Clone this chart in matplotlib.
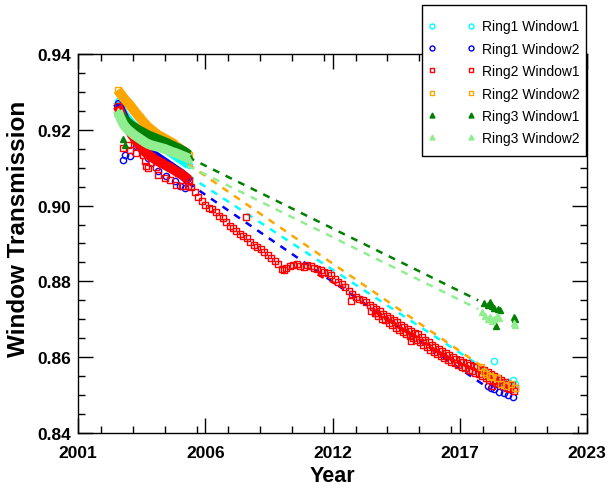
import matplotlib
matplotlib.use("Agg")
import matplotlib.pyplot as plt
from matplotlib.patches import Rectangle
from matplotlib.ticker import FixedLocator, MultipleLocator

plt.rcParams["font.family"] = ["Liberation Sans", "DejaVu Sans"]

# -------------------------------
# Datos
# -------------------------------
series_names = ["Ring1 Window1", "Ring1 Window2", "Ring2 Window1",
                "Ring2 Window2", "Ring3 Window1", "Ring3 Window2"]

early_years = [2002.72, 2002.80, 2002.88, 2002.97, 2003.07, 2003.18, 2003.30,
               2003.42, 2003.54, 2003.66, 2003.78, 2003.90, 2004.02, 2004.14,
               2004.26, 2004.38, 2004.50, 2004.62, 2004.74, 2004.86, 2004.98,
               2005.10, 2005.22, 2005.34, 2005.46, 2005.58, 2005.70, 2005.78]

r1w1_early = [0.9275, 0.9263, 0.9252, 0.9242, 0.9233, 0.9224, 0.9216, 0.9209,
              0.9203, 0.9197, 0.9192, 0.9187, 0.9182, 0.9177, 0.9172, 0.9167,
              0.9162, 0.9157, 0.9152, 0.9147, 0.9142, 0.9137, 0.9132, 0.9127,
              0.9122, 0.9117, 0.9112, 0.9108]
r1w2_early = [0.9270, 0.9258, 0.9247, 0.9235, 0.9223, 0.9211, 0.9199, 0.9188,
              0.9178, 0.9169, 0.9160, 0.9152, 0.9145, 0.9139, 0.9134, 0.9129,
              0.9124, 0.9119, 0.9114, 0.9109, 0.9104, 0.9099, 0.9094, 0.9089,
              0.9084, 0.9078, 0.9071, 0.9064]
r2w1_early = [0.9262, 0.9250, 0.9240, 0.9228, 0.9215, 0.9202, 0.9190, 0.9179,
              0.9168, 0.9158, 0.9150, 0.9142, 0.9135, 0.9130, 0.9125, 0.9120,
              0.9116, 0.9112, 0.9108, 0.9104, 0.9100, 0.9096, 0.9091, 0.9087,
              0.9083, 0.9078, 0.9072, 0.9068]
r2w2_early = [0.9305, 0.9298, 0.9292, 0.9284, 0.9277, 0.9270, 0.9261, 0.9251,
              0.9242, 0.9233, 0.9224, 0.9216, 0.9208, 0.9202, 0.9196, 0.9190,
              0.9185, 0.9181, 0.9177, 0.9173, 0.9169, 0.9165, 0.9158, 0.9153,
              0.9148, 0.9143, 0.9138, 0.9133]
r3w1_early = [0.9245, 0.9240, 0.9235, 0.9229, 0.9224, 0.9218, 0.9212, 0.9207,
              0.9202, 0.9198, 0.9194, 0.9190, 0.9186, 0.9183, 0.9180, 0.9177,
              0.9174, 0.9171, 0.9168, 0.9165, 0.9161, 0.9158, 0.9154, 0.9151,
              0.9147, 0.9143, 0.9138, 0.9134]
r3w2_early = [0.9250, 0.9236, 0.9225, 0.9214, 0.9206, 0.9199, 0.9193, 0.9187,
              0.9182, 0.9177, 0.9172, 0.9167, 0.9163, 0.9160, 0.9158, 0.9156,
              0.9154, 0.9152, 0.9150, 0.9147, 0.9144, 0.9141, 0.9139, 0.9136,
              0.9133, 0.9130, 0.9127, 0.9124]

# puntos sueltos del periodo inicial (y algunos tardios)
r1w2_out_x = [2002.94, 2003.03, 2003.24, 2003.50, 2003.72, 2004.03, 2004.16,
              2004.46, 2004.81, 2005.20, 2005.41, 2005.63]
r1w2_out_y = [0.9121, 0.9134, 0.9130, 0.9157, 0.9150, 0.9126, 0.9113, 0.9092,
              0.9079, 0.9066, 0.9053, 0.9047]
r2w1_out_x = [2002.94, 2003.16, 2003.24, 2003.50, 2003.81, 2003.89, 2003.94,
              2004.03, 2004.38, 2004.46, 2004.76, 2004.98, 2005.24, 2005.54,
              2005.76, 2008.26, 2012.80, 2013.90, 2015.40, 2018.90]
r2w1_out_y = [0.9152, 0.9160, 0.9147, 0.9139, 0.9134, 0.9118, 0.9105, 0.9100,
              0.9102, 0.9081, 0.9074, 0.9068, 0.9055, 0.9053, 0.9053, 0.8969,
              0.8747, 0.8716, 0.8643, 0.8525]
r3w1_out_x = [2002.94, 2003.03]
r3w1_out_y = [0.9175, 0.9160]

# Ring2 Window1 continua
r2w1_late_x = [2005.90, 2006.05, 2006.20, 2006.35, 2006.50, 2006.65, 2006.80,
               2006.95, 2007.10, 2007.25, 2007.40, 2007.55, 2007.70, 2007.85,
               2008.00, 2008.15, 2008.30, 2008.45, 2008.60, 2008.75, 2008.90,
               2009.05, 2009.20, 2009.35, 2009.50, 2009.65, 2009.80, 2009.90,
               2010.00, 2010.15, 2010.30, 2010.45, 2010.60, 2010.75, 2010.90,
               2011.05, 2011.20, 2011.35, 2011.50, 2011.65, 2011.80, 2011.95,
               2012.10, 2012.25, 2012.40, 2012.55, 2012.70, 2012.85, 2013.00,
               2013.15, 2013.30, 2013.45, 2013.60, 2013.75, 2013.90, 2014.05,
               2014.20, 2014.35, 2014.50, 2014.65, 2014.80, 2014.95, 2015.10,
               2015.25, 2015.40, 2015.55, 2015.70, 2015.85, 2016.00, 2016.15,
               2016.30, 2016.45, 2016.60, 2016.75, 2016.90, 2017.05, 2017.20,
               2017.35, 2017.50, 2017.65, 2017.80, 2017.95, 2018.10, 2018.25,
               2018.40, 2018.55, 2018.70, 2018.85, 2019.00, 2019.15, 2019.30,
               2019.45, 2019.60, 2019.75, 2019.90]
r2w1_late_y = [0.9048, 0.9035, 0.9024, 0.9012, 0.9001, 0.8994, 0.8990, 0.8984,
               0.8973, 0.8966, 0.8956, 0.8946, 0.8940, 0.8932, 0.8926, 0.8921,
               0.8915, 0.8905, 0.8897, 0.8891, 0.8885, 0.8878, 0.8870, 0.8863,
               0.8855, 0.8846, 0.8834, 0.8829, 0.8835, 0.8840, 0.8844, 0.8846,
               0.8841, 0.8838, 0.8842, 0.8840, 0.8836, 0.8833, 0.8829, 0.8826,
               0.8821, 0.8816, 0.8806, 0.8798, 0.8792, 0.8785, 0.8774, 0.8766,
               0.8760, 0.8754, 0.8750, 0.8745, 0.8738, 0.8733, 0.8728, 0.8721,
               0.8715, 0.8710, 0.8704, 0.8697, 0.8692, 0.8686, 0.8679, 0.8674,
               0.8670, 0.8665, 0.8660, 0.8652, 0.8646, 0.8640, 0.8633, 0.8626,
               0.8621, 0.8616, 0.8611, 0.8606, 0.8601, 0.8596, 0.8592, 0.8588,
               0.8584, 0.8580, 0.8577, 0.8573, 0.8569, 0.8565, 0.8560, 0.8555,
               0.8550, 0.8546, 0.8540, 0.8535, 0.8530, 0.8526, 0.8520]
r2w1_band_x = [2013.68, 2013.83, 2013.98, 2014.13, 2014.28, 2014.43, 2014.58,
               2014.73, 2014.88, 2015.03, 2015.18, 2015.33, 2015.48, 2015.63,
               2015.78, 2015.93, 2016.08, 2016.23, 2016.38, 2016.53, 2016.68,
               2016.83, 2016.98, 2017.13, 2017.28, 2017.43, 2017.58, 2017.73,
               2017.88, 2018.03, 2018.18, 2018.33, 2018.48, 2018.63, 2018.78,
               2018.93, 2019.08, 2019.23, 2019.38, 2019.53, 2019.68, 2019.83]
r2w1_band_y = [0.8722, 0.8716, 0.8710, 0.8702, 0.8697, 0.8690, 0.8685, 0.8678,
               0.8672, 0.8666, 0.8660, 0.8656, 0.8651, 0.8646, 0.8640, 0.8633,
               0.8627, 0.8620, 0.8614, 0.8608, 0.8603, 0.8598, 0.8593, 0.8588,
               0.8584, 0.8579, 0.8575, 0.8571, 0.8567, 0.8563, 0.8559, 0.8555,
               0.8550, 0.8546, 0.8541, 0.8537, 0.8532, 0.8528, 0.8524, 0.8520,
               0.8516, 0.8512]

# grupos finales 2018-2019
r1w1_end_x = [2018.40, 2018.60, 2018.75, 2018.97, 2019.05, 2019.30, 2019.60, 2019.80, 2019.90]
r1w1_end_y = [0.8565, 0.8560, 0.8555, 0.8591, 0.8545, 0.8535, 0.8535, 0.8540, 0.8530]
r1w2_end_x = [2018.70, 2018.85, 2019.00, 2019.20, 2019.40, 2019.60, 2019.80]
r1w2_end_y = [0.8525, 0.8520, 0.8515, 0.8508, 0.8505, 0.8500, 0.8495]
r2w2_end_x = [2018.40, 2018.55, 2018.65, 2018.80, 2018.90, 2019.10, 2019.30, 2019.50, 2019.70, 2019.90]
r2w2_end_y = [0.8575, 0.8560, 0.8555, 0.8550, 0.8548, 0.8545, 0.8530, 0.8525, 0.8528, 0.8520]
r3w1_end_x = [2018.55, 2018.70, 2018.80, 2018.90, 2019.00, 2019.05, 2019.15, 2019.25, 2019.85, 2019.90]
r3w1_end_y = [0.8742, 0.8738, 0.8745, 0.8736, 0.8730, 0.8682, 0.8728, 0.8724, 0.8705, 0.8700]
r3w2_end_x = [2018.45, 2018.60, 2018.70, 2018.80, 2018.90, 2019.00, 2019.10, 2019.20, 2019.85, 2019.90]
r3w2_end_y = [0.8718, 0.8710, 0.8700, 0.8705, 0.8695, 0.8700, 0.8708, 0.8703, 0.8690, 0.8685]

# tramos sin datos (lineas discontinuas)
r1w1_gap_x = [2005.75, 2018.60]
r1w1_gap_y = [0.9080, 0.8568]
r1w2_gap_x = [2005.75, 2018.70]
r1w2_gap_y = [0.9060, 0.8520]
r2w1_gap_x = [2011.35, 2012.50]
r2w1_gap_y = [0.8818, 0.8782]
r2w2_gap_x = [2005.75, 2018.60]
r2w2_gap_y = [0.9110, 0.8570]
r3w1_gap_x = [2005.75, 2018.30]
r3w1_gap_y = [0.9128, 0.8750]
r3w2_gap_x = [2005.75, 2018.30]
r3w2_gap_y = [0.9105, 0.8727]

x_ticks = [2001, 2006.5, 2012, 2017.5, 2023]
x_tick_labels = ["2001", "2006", "2012", "2017", "2023"]

colors = ["#00FFFF", "#0000FF", "#FF0000", "#FFA500", "#008000", "#90EE90"]
markers = ["o", "o", "s", "s", "^", "^"]

# -------------------------------
# Figura
# -------------------------------
fig = plt.figure(figsize=(6.09, 4.89), dpi=100)
ax = fig.add_axes([78 / 609, 1 - 434 / 489, 509 / 609, 379 / 489])

early = [r1w1_early, r1w2_early, r2w1_early, r2w2_early, r3w1_early, r3w2_early]
extra = [
    [(r1w1_end_x, r1w1_end_y)],
    [(r1w2_out_x, r1w2_out_y), (r1w2_end_x, r1w2_end_y)],
    [(r2w1_out_x, r2w1_out_y), (r2w1_late_x, r2w1_late_y), (r2w1_band_x, r2w1_band_y)],
    [(r2w2_end_x, r2w2_end_y)],
    [(r3w1_out_x, r3w1_out_y), (r3w1_end_x, r3w1_end_y)],
    [(r3w2_end_x, r3w2_end_y)],
]
gaps = [(r1w1_gap_x, r1w1_gap_y), (r1w2_gap_x, r1w2_gap_y), (r2w1_gap_x, r2w1_gap_y),
        (r2w2_gap_x, r2w2_gap_y), (r3w1_gap_x, r3w1_gap_y), (r3w2_gap_x, r3w2_gap_y)]

handles = []
for i, name in enumerate(series_names):
    c = colors[i]
    mfc = c if markers[i] == "^" else "none"
    ax.plot(gaps[i][0], gaps[i][1], color=c, lw=1.8, linestyle=(0, (2.8, 2.8)))
    # periodo inicial: puntos muy densos -> banda continua
    ax.plot(early_years, early[i], color=c, lw=7, marker=markers[i],
            ms=4.2, mew=1.0, mec=c, mfc=mfc, solid_capstyle="butt")
    for xs, ys in extra[i]:
        ax.plot(xs, ys, linestyle="none", marker=markers[i], ms=4.5,
                mew=1.0, mec=c, mfc=mfc)
    h, = ax.plot([], [], linestyle="none", marker=markers[i], ms=4.2,
                 mew=1.0, mec=c, mfc=mfc, label=name)
    handles.append(h)

ax.set_xlim(2001, 2023)
ax.set_ylim(0.84, 0.94)
ax.xaxis.set_major_locator(FixedLocator(x_ticks))
ax.set_xticklabels(x_tick_labels)
ax.xaxis.set_minor_locator(MultipleLocator(1.375))
ax.yaxis.set_major_locator(MultipleLocator(0.02))
ax.yaxis.set_minor_locator(MultipleLocator(0.005))
ax.yaxis.set_major_formatter(plt.FormatStrFormatter("%.2f"))
ax.tick_params(which="both", direction="in", top=True, right=True, width=1.0)
ax.tick_params(which="major", length=11, labelsize=12.5)
ax.tick_params(axis="x", which="major", pad=9)
ax.tick_params(axis="y", which="major", pad=5)
ax.tick_params(which="minor", length=5)
for lab in ax.get_xticklabels() + ax.get_yticklabels():
    lab.set_fontweight("bold")
for sp in ax.spines.values():
    sp.set_linewidth(1.0)

ax.set_xlabel("Year", fontsize=15.5, fontweight="bold", labelpad=3)
ax.set_ylabel("Window Transmission", fontsize=17.5, fontweight="bold", labelpad=1)
ax.yaxis.set_label_coords(-0.095, 0.54)

# caja de la leyenda (tapa la esquina superior derecha de los ejes)
box = Rectangle((422 / 609, 1 - 157 / 489), 164 / 609, 151 / 489,
                transform=fig.transFigure, facecolor="white",
                edgecolor="black", lw=1.0, zorder=4)
fig.patches.append(box)

leg = fig.legend(handles=handles, loc="upper left",
                 bbox_to_anchor=(428 / 609, 1 - 20.5 / 489), borderaxespad=0,
                 borderpad=0, numpoints=2, markerscale=0.85, fontsize=10,
                 handlelength=3.4, handletextpad=0.5, labelspacing=0.6,
                 frameon=False)
leg.set_zorder(5)

fig.savefig("out.png", dpi=100)
